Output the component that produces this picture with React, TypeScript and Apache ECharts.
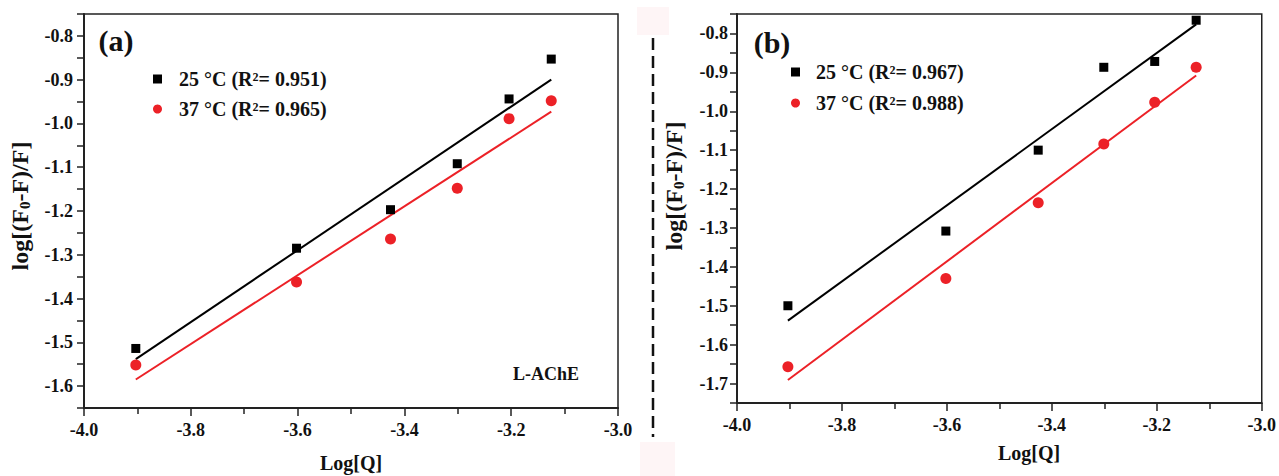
import { useEffect, useRef } from 'react';
import * as echarts from 'echarts';

const logQ = [-3.903, -3.602, -3.426, -3.301, -3.204, -3.125];
const a25 = [-1.514, -1.285, -1.197, -1.092, -0.944, -0.853];
const a37 = [-1.552, -1.362, -1.264, -1.148, -0.989, -0.948];
const b25 = [-1.5, -1.308, -1.1, -0.887, -0.872, -0.766];
const b37 = [-1.657, -1.43, -1.235, -1.084, -0.977, -0.887];

const nameA25 = '25 °C (R²= 0.951)';
const nameA37 = '37 °C (R²= 0.965)';
const nameB25 = '25 °C (R²= 0.967)';
const nameB37 = '37 °C (R²= 0.988)';

const FONT = 'Liberation Serif';
const RED = '#ec2127';
const INK = '#111';

function fit(xs: number[], ys: number[]) {
  const n = xs.length;
  const mx = xs.reduce((s, v) => s + v, 0) / n;
  const my = ys.reduce((s, v) => s + v, 0) / n;
  let sxy = 0, sxx = 0;
  for (let i = 0; i < n; i++) {
    sxy += (xs[i] - mx) * (ys[i] - my);
    sxx += (xs[i] - mx) * (xs[i] - mx);
  }
  const k = sxy / sxx;
  const x0 = Math.min(...xs), x1 = Math.max(...xs);
  return [[x0, my + k * (x0 - mx)], [x1, my + k * (x1 - mx)]];
}

const pairs = (ys: number[]) => logQ.map((x, i) => [x, ys[i]]);

const yFmt = (v: number) =>
  Math.abs(v * 10 - Math.round(v * 10)) < 1e-6 ? v.toFixed(1) : '';
const xFmt = (v: number) => v.toFixed(1);

function xAxis(gridIndex: number) {
  return {
    type: 'value', gridIndex, min: -4, max: -3, interval: 0.2,
    axisLine: { show: true, onZero: false, lineStyle: { color: '#222', width: 2 } },
    axisTick: { show: true, inside: false, length: 8, lineStyle: { color: '#222', width: 1.5 } },
    minorTick: { show: true, splitNumber: 2, length: 6, lineStyle: { color: '#222', width: 1.5 } },
    axisLabel: { fontSize: 18, fontFamily: FONT, fontWeight: 'bold', color: INK, margin: 13, formatter: xFmt },
    splitLine: { show: false },
  };
}

function yAxis(gridIndex: number, min: number, margin: number) {
  return {
    type: 'value', gridIndex, min, max: -0.75, interval: 0.05,
    axisLine: { show: true, onZero: false, lineStyle: { color: '#222', width: 2 } },
    axisTick: { show: true, inside: false, length: 7, lineStyle: { color: '#222', width: 1.5 } },
    axisLabel: { fontSize: 18, fontFamily: FONT, fontWeight: 'bold', color: INK, margin, formatter: yFmt },
    splitLine: { show: false },
  };
}

function scatter(name: string, ys: number[], idx: number, red: boolean) {
  return {
    type: 'scatter', name, xAxisIndex: idx, yAxisIndex: idx,
    data: pairs(ys), symbol: red ? 'circle' : 'rect', symbolSize: red ? 11 : 9,
    itemStyle: { color: red ? RED : '#000', opacity: 1 }, z: 3,
  };
}

function fitLine(ys: number[], idx: number, red: boolean) {
  return {
    type: 'line', xAxisIndex: idx, yAxisIndex: idx, data: fit(logQ, ys),
    symbol: 'none', lineStyle: { color: red ? RED : '#000', width: 2 }, z: 2,
  };
}

function legendText(pad: number) {
  return { fontFamily: FONT, fontWeight: 'bold', fontSize: 20, color: INK, lineHeight: 20, padding: [0, 0, 0, pad] };
}

function yTitle(x: number, y: number) {
  return {
    type: 'text', x, y, rotation: Math.PI / 2,
    style: {
      text: 'log[(F{s|0}-F)/F]',
      fontFamily: FONT, fontWeight: 'bold', fontSize: 24, fill: INK,
      align: 'center', verticalAlign: 'middle',
      rich: { s: { fontFamily: FONT, fontWeight: 'bold', fontSize: 15, fill: INK, verticalAlign: 'bottom', padding: [10, 0, 0, 0] } },
    },
  };
}

function plainText(text: string, x: number, y: number, size: number) {
  return {
    type: 'text', x, y,
    style: { text, fontFamily: FONT, fontWeight: 'bold', fontSize: size, fill: INK, align: 'center', verticalAlign: 'middle' },
  };
}

export default function App() {
  const ref = useRef<HTMLDivElement>(null);
  useEffect(() => {
    document.body.style.margin = '0';
    const chart = echarts.init(ref.current!, null, { renderer: 'svg' });
    chart.setOption({
      animation: false,
      backgroundColor: '#fff',
      grid: [
        { left: 84, top: 14, width: 534, height: 394, show: true, borderColor: '#222', borderWidth: 1.5 },
        { left: 737, top: 14, width: 528, height: 389, show: true, borderColor: '#222', borderWidth: 1.5 },
      ],
      xAxis: [xAxis(0), xAxis(1)],
      yAxis: [yAxis(0, -1.65, 11), yAxis(1, -1.75, 9)],
      legend: [
        { data: [nameA25, nameA37], orient: 'vertical', left: 148, top: 64, itemWidth: 9, itemHeight: 9, itemGap: 10, textStyle: legendText(12), selectedMode: false },
        { data: [nameB25, nameB37], orient: 'vertical', left: 786, top: 57, itemWidth: 9, itemHeight: 9, itemGap: 11, textStyle: legendText(11), selectedMode: false },
      ],
      series: [
        fitLine(a25, 0, false), fitLine(a37, 0, true),
        scatter(nameA25, a25, 0, false), scatter(nameA37, a37, 0, true),
        fitLine(b25, 1, false), fitLine(b37, 1, true),
        scatter(nameB25, b25, 1, false), scatter(nameB37, b37, 1, true),
      ],
      graphic: [
        { type: 'rect', shape: { x: 637, y: 7, width: 32, height: 28 }, style: { fill: '#fef5f6' }, z: 0 },
        { type: 'rect', shape: { x: 640, y: 442, width: 35, height: 34 }, style: { fill: '#fef5f6' }, z: 0 },
        { type: 'line', shape: { x1: 653, y1: 38, x2: 653, y2: 437 }, style: { stroke: '#111', lineWidth: 2.5, lineDash: [12, 6] } },
        plainText('(a)', 116, 40, 30),
        plainText('(b)', 772, 42, 30),
        plainText('L-AChE', 546, 374, 18),
        plainText('Log[Q]', 351, 463, 20),
        plainText('Log[Q]', 1029, 453, 20),
        yTitle(20, 206),
        yTitle(674, 186),
      ],
    });
    return () => chart.dispose();
  }, []);
  return <div ref={ref} style={{ width: 1279, height: 476 }} />;
}
